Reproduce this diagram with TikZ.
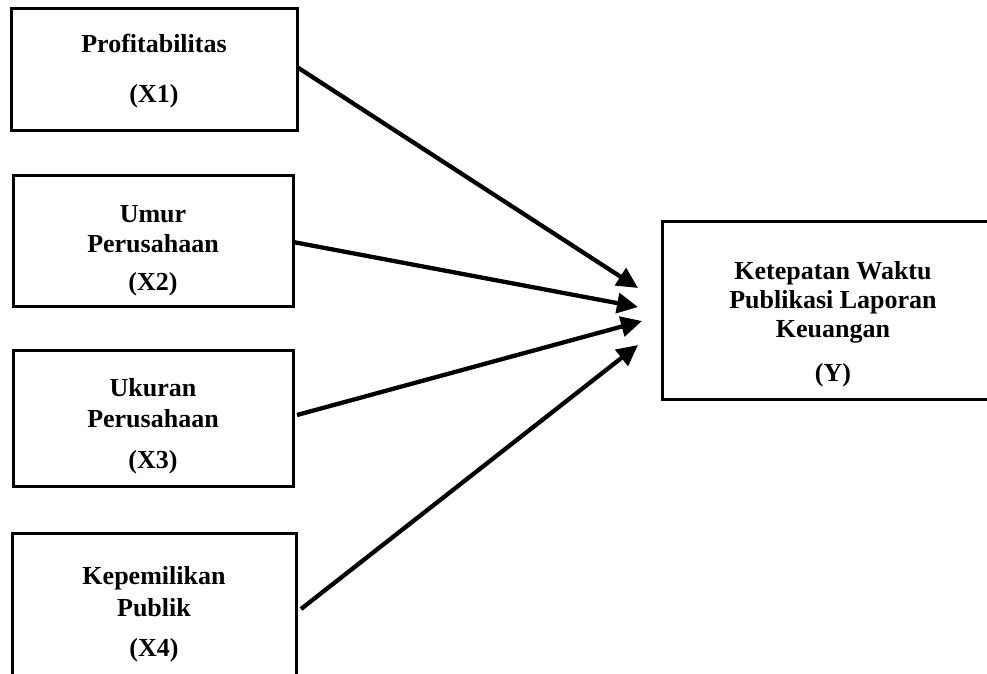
\documentclass[tikz,border=0pt]{standalone}
\usepackage{fontspec}
\setmainfont{Liberation Serif}
\usetikzlibrary{arrows.meta}
\begin{document}
\begin{tikzpicture}[x=1pt,y=-1pt,
  boxnode/.style={draw=black,line width=3pt,rectangle,inner sep=0pt},
  txt/.style={anchor=base,inner sep=0pt,font=\fontsize{26}{30}\selectfont\bfseries},
  arr/.style={line width=4.3pt,-{Triangle[length=21pt,width=20pt]}}]
\useasboundingbox (0,0) rectangle (987,673);
% boxes
\node[boxnode,minimum width=286pt,minimum height=122pt] (b1) at (154,69) {};
\node[boxnode,minimum width=280pt,minimum height=131pt] (b2) at (153,240.5) {};
\node[boxnode,minimum width=280pt,minimum height=136pt] (b3) at (153,418) {};
\node[boxnode,minimum width=284pt,minimum height=160pt] (b4) at (154,613) {};
\node[boxnode,minimum width=342pt,minimum height=178pt] (by) at (833,310) {};
% texts
\node[txt] (t11) at (154,52) {Profitabilitas};
\node[txt] (t12) at (154,102) {(X1)};
\node[txt] (t21) at (153,222) {Umur};
\node[txt] (t22) at (153,252) {Perusahaan};
\node[txt] (t23) at (153,290) {(X2)};
\node[txt] (t31) at (153,396) {Ukuran};
\node[txt] (t32) at (153,427) {Perusahaan};
\node[txt] (t33) at (153,468) {(X3)};
\node[txt] (t41) at (154,584) {Kepemilikan};
\node[txt] (t42) at (154,616) {Publik};
\node[txt] (t43) at (154,656) {(X4)};
\node[txt] (ty1) at (833,279) {Ketepatan Waktu};
\node[txt] (ty2) at (833,308) {Publikasi Laporan};
\node[txt] (ty3) at (833,337) {Keuangan};
\node[txt] (ty4) at (833,381) {(Y)};
% arrow ends
\coordinate (s1) at (297,67);
\coordinate (s2) at (293,242);
\coordinate (s3) at (297,415);
\coordinate (s4) at (301,609);
\coordinate (e1) at (638,288);
\coordinate (e2) at (638,307);
\coordinate (e3) at (642,321);
\coordinate (e4) at (638,345);
\draw[arr] (s1) -- (e1);
\draw[arr] (s2) -- (e2);
\draw[arr] (s3) -- (e3);
\draw[arr] (s4) -- (e4);
\end{tikzpicture}
\end{document}
